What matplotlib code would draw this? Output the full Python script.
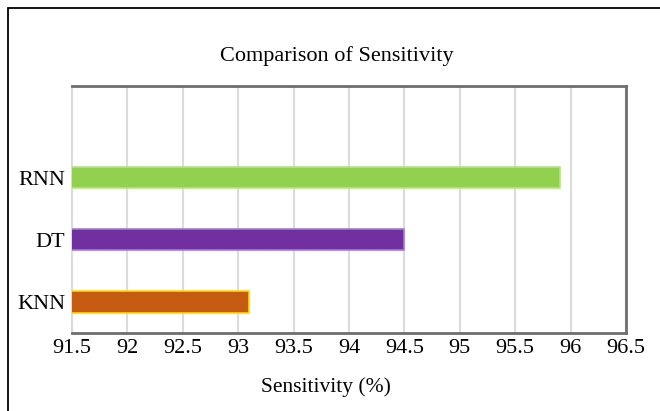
import matplotlib
matplotlib.use("Agg")
import matplotlib.pyplot as plt
from matplotlib.patches import Rectangle

models = ["KNN", "DT", "RNN"]
sensitivity = [93.1, 94.5, 95.9]
bar_colors = ["#C55A11", "#7030A0", "#92D050"]
edge_colors = ["#FFD700", "#A080C8", "#B8E090"]
xticks = [91.5, 92, 92.5, 93, 93.5, 94, 94.5, 95, 95.5, 96, 96.5]

plt.rcParams['font.family'] = ['Liberation Serif', 'DejaVu Serif']

fig = plt.figure(figsize=(6.6, 4.11), dpi=100)
ax = fig.add_axes([72/660, 1 - 333/411, (626 - 72)/660, (333 - 86)/411])

# outer frame (right/bottom edges are outside the picture)
fig.patches.append(Rectangle((8/660, -0.2), 1.0, 1.2 - 8/411,
                             transform=fig.transFigure, fill=False,
                             edgecolor="black", linewidth=1.3))

ax.barh(range(len(models)), sensitivity, height=0.34, color=bar_colors,
        edgecolor=edge_colors, linewidth=1.2, zorder=3)

ax.set_xlim(91.5, 96.5)
ax.set_ylim(-0.5, 3.48)
ax.set_xticks(xticks)
ax.set_xticklabels([f"{t:g}" for t in xticks], fontsize=16)
ax.set_yticks(range(len(models)))
ax.set_yticklabels(models, fontsize=16)
ax.tick_params(length=0)
ax.tick_params(axis="x", pad=4)
ax.tick_params(axis="y", pad=5)
ax.xaxis.grid(True, color="#dcdcdc", linewidth=1.5, zorder=0)
ax.set_axisbelow(True)

for side in ["top", "right", "bottom"]:
    ax.spines[side].set_color("#6e6e6e")
    ax.spines[side].set_linewidth(2)
ax.spines["left"].set_color("#dcdcdc")
ax.spines["left"].set_linewidth(1.5)

fig.text(337/660, 1 - 56/411, "Comparison of Sensitivity", fontsize=16,
         ha="center", va="center")
fig.text(326/660, 1 - 387/411, "Sensitivity (%)", fontsize=15.5,
         ha="center", va="center")

fig.savefig("out.png", dpi=100)
